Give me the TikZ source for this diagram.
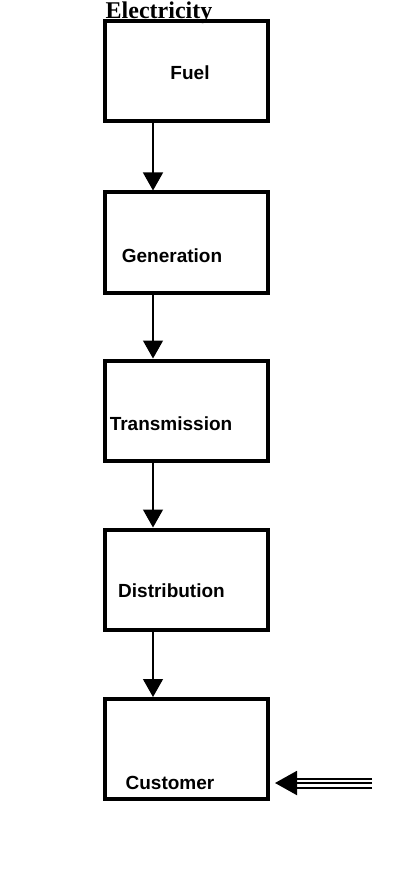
\documentclass[tikz,border=0pt]{standalone}
\usepackage{fontspec}
\setmainfont{Liberation Serif}
\newfontfamily\labelfont{Liberation Sans}
\usetikzlibrary{arrows.meta}
\begin{document}
\begin{tikzpicture}[x=1pt,y=-1pt,
  stagebox/.style={draw,line width=4pt,minimum width=163pt,minimum height=100pt,inner sep=0pt},
  stagelabel/.style={font=\labelfont\bfseries\fontsize{19}{22}\selectfont,inner sep=0pt},
  flow/.style={line width=1.3pt,-{Triangle[width=20pt,length=18pt]}}]
\useasboundingbox (0,0) rectangle (393,877);
\node[font=\bfseries\fontsize{24}{28}\selectfont,inner sep=0pt,anchor=base] (title) at (159,18.5) {Electricity};
\node[stagebox] (fuel) at (186.5,71) {};
\node[stagebox] (gen) at (186.5,242.5) {};
\node[stagebox] (trans) at (186.5,410.5) {};
\node[stagebox] (dist) at (186.5,579.5) {};
\node[stagebox] (cust) at (186.5,749) {};
\node[stagelabel] (lfuel) at (190,73) {Fuel};
\node[stagelabel] (lgen) at (172,256) {Generation};
\node[stagelabel] (ltrans) at (171,424) {Transmission};
\node[stagelabel] (ldist) at (171.5,591) {Distribution};
\node[stagelabel] (lcust) at (170,783) {Customer};
\draw[flow] (fuel.south -| 153,0) -- (gen.north -| 153,0);
\draw[flow] (gen.south -| 153,0) -- (trans.north -| 153,0);
\draw[flow] (trans.south -| 153,0) -- (dist.north -| 153,0);
\draw[flow] (dist.south -| 153,0) -- (cust.north -| 153,0);
\coordinate (src) at (372,783);
\coordinate (tip) at (275,783);
\draw[line width=2pt,-{Triangle[width=24pt,length=22pt]}] (src) -- (tip);
\draw[line width=2pt] ([yshift=-4.5pt]src) -- ([xshift=20pt,yshift=-4.5pt]tip);
\draw[line width=2pt] ([yshift=4.5pt]src) -- ([xshift=20pt,yshift=4.5pt]tip);
\end{tikzpicture}
\end{document}
